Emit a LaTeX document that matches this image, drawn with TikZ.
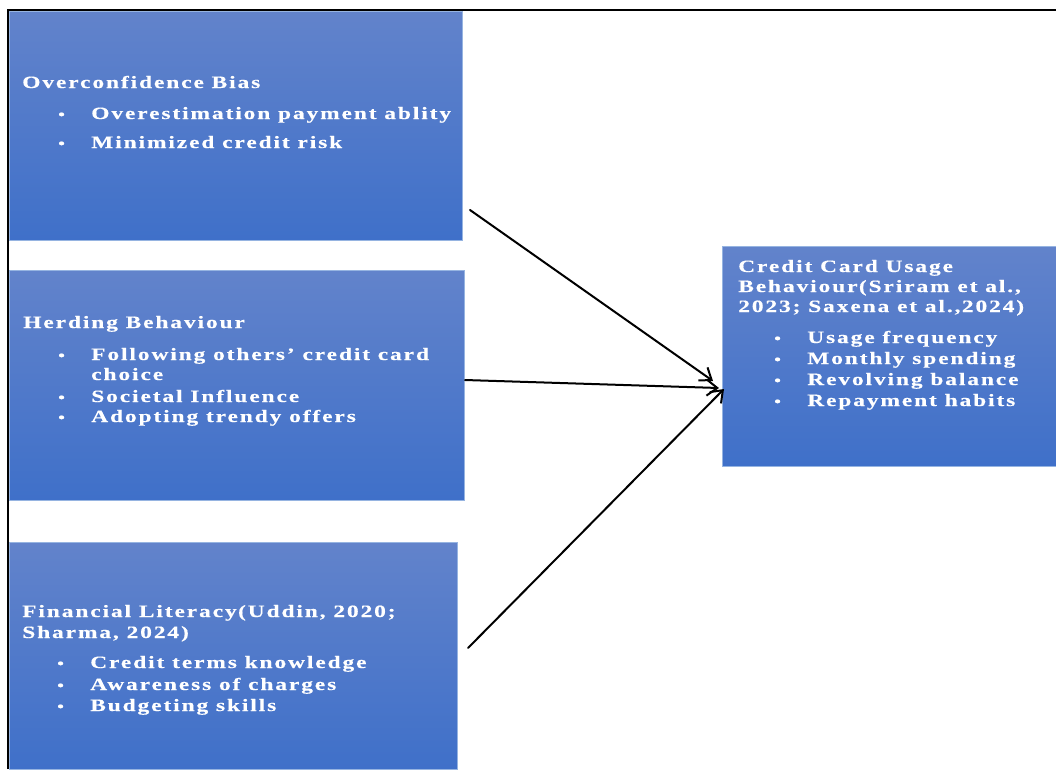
\documentclass[tikz,border=0pt]{standalone}
\usepackage{fontspec}
\setmainfont{Liberation Serif}[FakeStretch=1.35,LetterSpace=11,BoldFeatures={FakeBold=0.4}]
\usetikzlibrary{arrows.meta}
\definecolor{btop}{RGB}{98,131,203}
\definecolor{bbot}{RGB}{63,112,201}
\definecolor{bedge}{RGB}{150,180,225}
\begin{document}
\begin{tikzpicture}[x=0.75pt,y=-0.75pt,
  box/.style={shading=axis, top color=btop, bottom color=bbot, draw=bedge, line width=0.5pt, anchor=north west, inner sep=0pt},
  txt/.style={anchor=base west, inner sep=0pt, text=white, font=\fontsize{13}{15}\selectfont\bfseries},
  bul/.style={anchor=base west, inner sep=0pt, text=white, font=\fontsize{10.5}{12}\selectfont\bfseries},
  arr/.style={-{Straight Barb[length=8pt,width=12pt]}, line width=1.5pt, line cap=round}]
\useasboundingbox (0,0) rectangle (1056,769);
% frame lines
\coordinate (fl) at (8,769);
\coordinate (ftl) at (8,10);
\coordinate (ftr) at (1056,10);
\draw[line width=1.1pt] (fl) -- (ftl) -- (ftr);
% boxes
\node[box, minimum width=453*0.75pt, minimum height=229*0.75pt] (b1) at (9,11) {};
\node[box, minimum width=455*0.75pt, minimum height=230*0.75pt] (b2) at (9,270) {};
\node[box, minimum width=448*0.75pt, minimum height=227*0.75pt] (b3) at (9,542) {};
\node[box, minimum width=334*0.75pt, minimum height=220*0.75pt] (b4) at (722,246) {};
% box 1 text
\node[txt] (t1) at (22,88) {Overconfidence Bias};
\node[bul] (d11) at (58,119) {•};
\node[txt] (t11) at (91,119) {Overestimation payment ablity};
\node[bul] (d12) at (58,148) {•};
\node[txt] (t12) at (91,148) {Minimized credit risk};
% box 2 text
\node[txt] (t2) at (23,328) {Herding Behaviour};
\node[bul] (d21) at (58,360) {•};
\node[txt] (t21) at (91,360) {Following others’ credit card};
\node[txt] (t21b) at (91,380) {choice};
\node[bul] (d22) at (58,402) {•};
\node[txt] (t22) at (91,402) {Societal Influence};
\node[bul] (d23) at (58,422) {•};
\node[txt] (t23) at (91,422) {Adopting trendy offers};
% box 3 text
\node[txt] (t3) at (22,617) {Financial Literacy\hspace{0.08em}(Uddin, 2020;};
\node[txt] (t3b) at (22,638) {Sharma, 2024)};
\node[bul] (d31) at (57,668) {•};
\node[txt] (t31) at (90,668) {Credit terms knowledge};
\node[bul] (d32) at (57,690) {•};
\node[txt] (t32) at (90,690) {Awareness of charges};
\node[bul] (d33) at (57,711) {•};
\node[txt] (t33) at (90,711) {Budgeting skills};
% box 4 text
\node[txt] (t4) at (738,272) {Credit Card Usage};
\node[txt] (t4b) at (738,292) {Behaviour\hspace{0.08em}(Sriram et al.,};
\node[txt] (t4c) at (738,312) {2023; Saxena et al.,\hspace{0.08em}2024)};
\node[bul] (d41) at (774,343) {•};
\node[txt] (t41) at (807,343) {Usage frequency};
\node[bul] (d42) at (774,364) {•};
\node[txt] (t42) at (807,364) {Monthly spending};
\node[bul] (d43) at (774,385) {•};
\node[txt] (t43) at (807,385) {Revolving balance};
\node[bul] (d44) at (774,406) {•};
\node[txt] (t44) at (807,406) {Repayment habits};
% arrows
\coordinate (a1s) at (470,210);
\coordinate (a1e) at (713,381);
\coordinate (a2s) at (465,380);
\coordinate (a2e) at (719,388);
\coordinate (a3s) at (468,648);
\coordinate (a3e) at (724,389);
\draw[arr] (a1s) -- (a1e);
\draw[arr] (a2s) -- (a2e);
\draw[arr] (a3s) -- (a3e);
\end{tikzpicture}
\end{document}
